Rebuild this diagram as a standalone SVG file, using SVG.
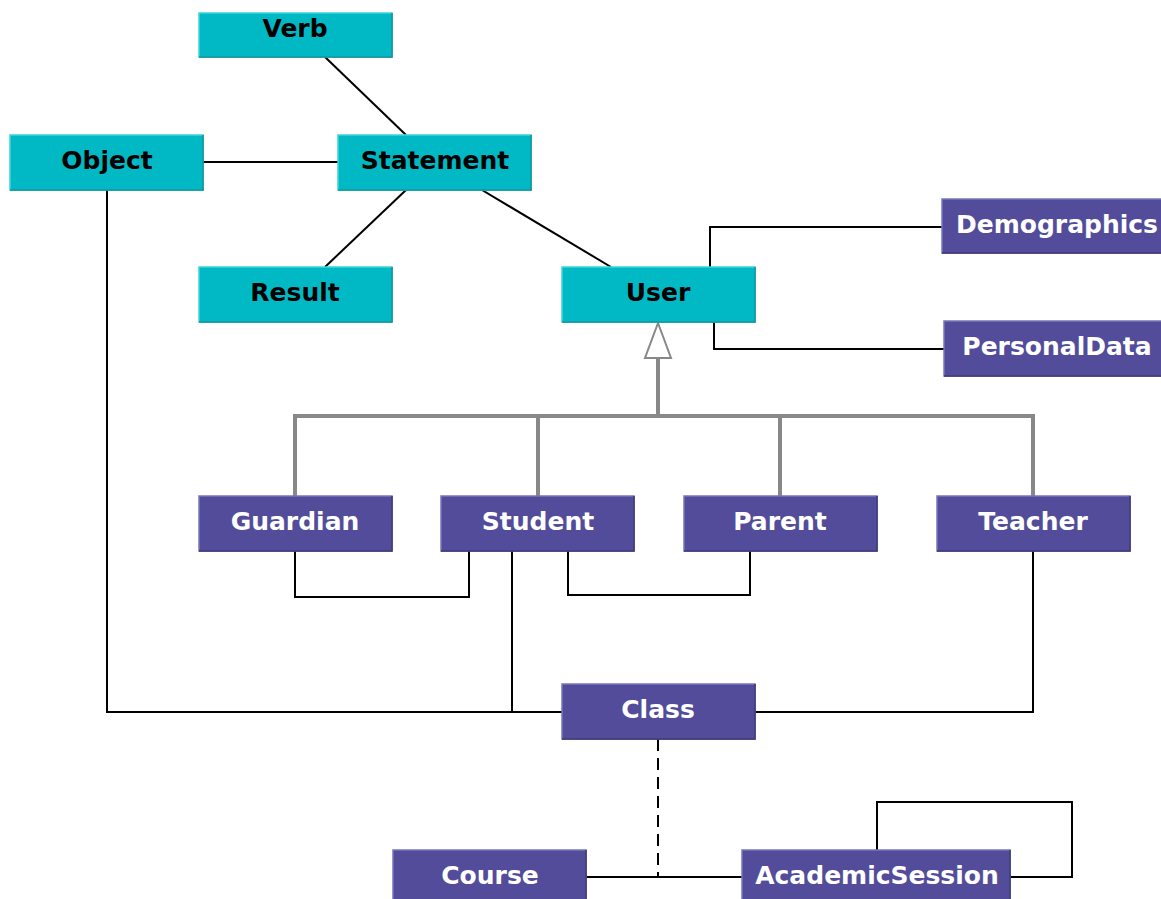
<svg xmlns="http://www.w3.org/2000/svg" width="1161" height="899" viewBox="0 0 1161 899">
<style>
.t rect{fill:#00B9C5;stroke:#3CD3DC;stroke-width:1.5}
.p rect{fill:#524C9B;stroke:#7A75BC;stroke-width:1.5}
.t .s{fill:none;stroke:#0A8F99;stroke-width:1.5}
.p .s{fill:none;stroke:#38336E;stroke-width:1.5}
.t text{fill:#000;font-family:"DejaVu Sans",sans-serif;font-weight:bold;font-size:25px;text-anchor:middle}
.p text{fill:#fff;font-family:"DejaVu Sans",sans-serif;font-weight:bold;font-size:25px;text-anchor:middle}
.c{fill:none;stroke:#000;stroke-width:2}
.g{fill:none;stroke:#888;stroke-width:4}
</style>
<g id="connectors">
<path class="c" d="M325 57L406 135"/>
<path class="c" d="M203 162H338"/>
<path class="c" d="M406 190L325 267"/>
<path class="c" d="M482 190L611 267"/>
<path class="c" d="M710 267V227H942"/>
<path class="c" d="M714 322V349H944"/>
<path class="g" d="M658 416V358"/>
<polygon points="658,323 645,358 671,358" fill="#fff" stroke="#888" stroke-width="2"/>
<path class="g" d="M295 496V416H1033V496M538 416V496M780 416V496"/>
<path class="c" d="M295 551V597H469V551"/>
<path class="c" d="M568 551V595H750V551"/>
<path class="c" d="M512 551V712"/>
<path class="c" d="M107 190V712H562"/>
<path class="c" d="M1033 551V712H755"/>
<path class="c" d="M658 739V877" stroke-dasharray="12,7"/>
<path class="c" d="M586 877H742"/>
<path class="c" d="M877 850V802H1072V877H1010"/>
</g>
<g id="verb" class="t"><rect x="199" y="13" width="193" height="44"/><path class="s" d="M199 57H392V13"/><text x="295" y="37">Verb</text></g>
<g id="object" class="t"><rect x="10" y="135" width="193" height="55"/><path class="s" d="M10 190H203V135"/><text x="107" y="169">Object</text></g>
<g id="statement" class="t"><rect x="338" y="135" width="193" height="55"/><path class="s" d="M338 190H531V135"/><text x="435" y="169">Statement</text></g>
<g id="result" class="t"><rect x="199" y="267" width="193" height="55"/><path class="s" d="M199 322H392V267"/><text x="295" y="301">Result</text></g>
<g id="user" class="t"><rect x="562" y="267" width="193" height="55"/><path class="s" d="M562 322H755V267"/><text x="658" y="301">User</text></g>
<g id="demographics" class="p"><rect x="942" y="199" width="225" height="54"/><path class="s" d="M942 253H1167"/><text x="1057" y="233">Demographics</text></g>
<g id="personaldata" class="p"><rect x="944" y="321" width="223" height="55"/><path class="s" d="M944 376H1167"/><text x="1057" y="355">PersonalData</text></g>
<g id="guardian" class="p"><rect x="199" y="496" width="193" height="55"/><path class="s" d="M199 551H392V496"/><text x="295" y="530">Guardian</text></g>
<g id="student" class="p"><rect x="441" y="496" width="193" height="55"/><path class="s" d="M441 551H634V496"/><text x="538" y="530">Student</text></g>
<g id="parent" class="p"><rect x="684" y="496" width="193" height="55"/><path class="s" d="M684 551H877V496"/><text x="780" y="530">Parent</text></g>
<g id="teacher" class="p"><rect x="937" y="496" width="193" height="55"/><path class="s" d="M937 551H1130V496"/><text x="1033" y="530">Teacher</text></g>
<g id="class" class="p"><rect x="562" y="684" width="193" height="55"/><path class="s" d="M562 739H755V684"/><text x="658" y="718">Class</text></g>
<g id="course" class="p"><rect x="393" y="850" width="193" height="55"/><path class="s" d="M586 905V850"/><text x="490" y="884">Course</text></g>
<g id="academicsession" class="p"><rect x="742" y="850" width="268" height="55"/><path class="s" d="M1010 905V850"/><text x="877" y="884">AcademicSession</text></g>
</svg>
